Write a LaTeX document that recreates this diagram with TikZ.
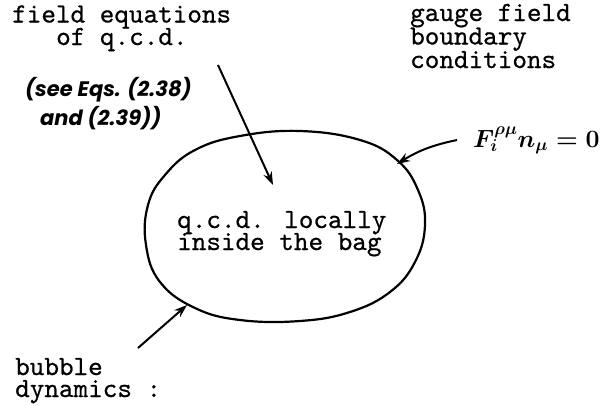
\documentclass[tikz,border=0pt]{standalone}
\usepackage{fontspec}
\usetikzlibrary{arrows.meta}
\newfontfamily\handfont{Poppins}
\newfontfamily\twfont{lmmono10-regular.otf}[FakeBold=0.6]
\begin{document}
\begin{tikzpicture}[x=1pt,y=-1pt,
  tw/.style={font=\fontsize{27.8}{23.5}\selectfont\twfont, inner sep=0pt, anchor=base west, text height=15pt, text depth=4pt},
  hand/.style={font=\fontsize{21}{29}\selectfont\handfont\bfseries\itshape, inner sep=0pt, anchor=base west},
  arr/.style={line width=2pt, -{Stealth[length=13pt,width=9pt]}},
  bag/.style={line width=2.2pt}]
\useasboundingbox (0,0) rectangle (616,405);
% texts
\node[tw] (feq1) at (12,22.5) {field equations};
\node[tw] (feq2) at (56,45) {of q.c.d.};
\node[tw] (gauge1) at (410,21) {gauge field};
\node[tw] (gauge2) at (410,44.5) {boundary};
\node[tw] (gauge3) at (410,68) {conditions};
\node[tw] (inside1) at (177,228) {q.c.d. locally};
\node[tw] (inside2) at (177,250) {inside the bag};
\node[tw] (bubble1) at (15,375) {bubble};
\node[tw] (bubble2) at (15,397) {dynamics :};
\node[hand] (see1) at (25,96) {(see Eqs. (2.38)};
\node[hand] (see2) at (40,125) {and (2.39))};
\node[inner sep=0pt, anchor=base west, font=\fontsize{27}{27}\selectfont\boldmath] (bc) at (473,147) {$F_i^{\rho\mu}n_\mu=0$};
% bag
\draw[bag] plot[smooth cycle, tension=0.7] coordinates {(300,131) (360,140) (397,160) (418,190) (425,225) (415,262) (390,292) (350,312) (300,321) (240,320) (195,308) (160,282) (146,245) (148,205) (165,175) (195,150) (240,136)};
% arrow coordinates
\coordinate (a1s) at (218,65);
\coordinate (a1e) at (273,185);
\coordinate (a2s) at (457,140);
\coordinate (a2e) at (397,164);
\coordinate (a3s) at (138,348);
\coordinate (a3e) at (187,305);
\draw[arr] (a1s) -- (a1e);
\draw[arr] (a2s) to[bend right=10] (a2e);
\draw[arr] (a3s) -- (a3e);
\end{tikzpicture}
\end{document}
